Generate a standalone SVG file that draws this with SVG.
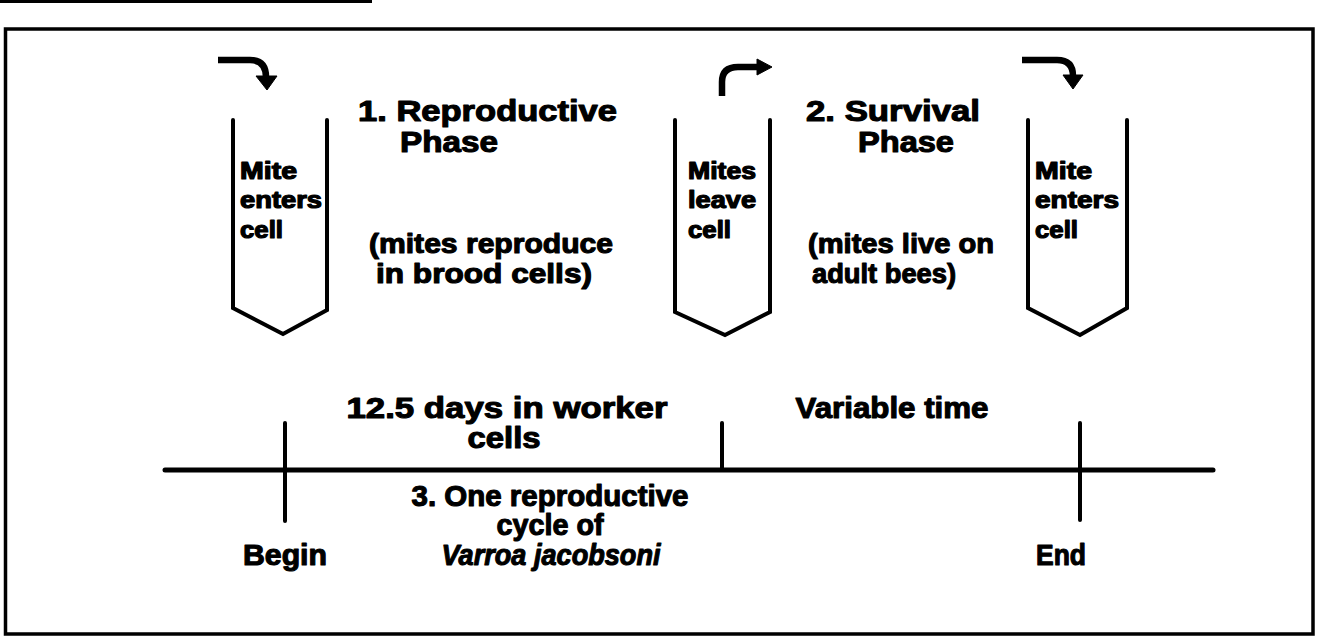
<svg xmlns="http://www.w3.org/2000/svg" width="1318" height="639" viewBox="0 0 1318 639">
  <style>
    .t { font-family: "Liberation Sans", Arial, sans-serif; font-weight: bold; fill: #000; stroke: #000; stroke-width: 1.1; stroke-linejoin: round; }
    .big { font-size: 29px; }
    .mid { font-size: 27px; }
    .cell { font-size: 23px; stroke-width: 1.2; }
    .it { font-style: italic; }
    .line { fill: none; stroke: #000; stroke-linecap: round; stroke-linejoin: round; }
    .cellshape { fill: none; stroke: #000; stroke-width: 4; stroke-linejoin: miter; stroke-linecap: round; }
    .arrow { fill: none; stroke: #000; stroke-width: 6.5; stroke-linecap: butt; }
    .head { fill: #000; stroke: #000; stroke-width: 1; stroke-linejoin: round; }
  </style>
  <rect width="1318" height="639" fill="#fff"/>

  <!-- frame -->
  <g id="frame">
    <line x1="0" y1="1.5" x2="372" y2="1.5" stroke="#000" stroke-width="3"/>
    <path d="M5.5,634 V29 H1313 V634 H5.5 Z" fill="none" stroke="#000" stroke-width="3.5"/>
  </g>

  <!-- cells -->
  <g id="cell-enter-1">
    <polyline class="cellshape" points="233,120 233,308 283,334 327,310 327,120"/>
    <text class="t cell" x="240" y="179" textLength="57" lengthAdjust="spacingAndGlyphs">Mite</text>
    <text class="t cell" x="240" y="208" textLength="82" lengthAdjust="spacingAndGlyphs">enters</text>
    <text class="t cell" x="240" y="238" textLength="43" lengthAdjust="spacingAndGlyphs">cell</text>
  </g>
  <g id="cell-leave">
    <polyline class="cellshape" points="675,120 675,312 725,335 770,312 770,120"/>
    <text class="t cell" x="688" y="179" textLength="68" lengthAdjust="spacingAndGlyphs">Mites</text>
    <text class="t cell" x="688" y="208" textLength="68" lengthAdjust="spacingAndGlyphs">leave</text>
    <text class="t cell" x="688" y="238" textLength="43" lengthAdjust="spacingAndGlyphs">cell</text>
  </g>
  <g id="cell-enter-2">
    <polyline class="cellshape" points="1028,120 1028,308 1080,335 1127,308 1127,120"/>
    <text class="t cell" x="1035" y="179" textLength="57" lengthAdjust="spacingAndGlyphs">Mite</text>
    <text class="t cell" x="1035" y="208" textLength="84" lengthAdjust="spacingAndGlyphs">enters</text>
    <text class="t cell" x="1035" y="238" textLength="43" lengthAdjust="spacingAndGlyphs">cell</text>
  </g>

  <!-- arrows (connectors) -->
  <g id="connectors">
    <path class="arrow" d="M218,60 H250 Q266,60 266,77"/>
    <polygon class="head" points="256,76 277,76 267,90"/>
    <path class="arrow" d="M722,96 V82 Q722,67 738,67 H758"/>
    <polygon class="head" points="757,59 772,67 757,75"/>
    <path class="arrow" d="M1022,60 H1057 Q1073,60 1073,76"/>
    <polygon class="head" points="1063,75 1083,75 1073,89"/>
  </g>

  <!-- phase labels -->
  <g id="phase-1">
    <text class="t big" x="358" y="121" textLength="259" lengthAdjust="spacingAndGlyphs">1. Reproductive</text>
    <text class="t big" x="400" y="152" textLength="98" lengthAdjust="spacingAndGlyphs">Phase</text>
    <text class="t mid" x="369" y="253" textLength="244" lengthAdjust="spacingAndGlyphs">(mites reproduce</text>
    <text class="t mid" x="376" y="283" textLength="216" lengthAdjust="spacingAndGlyphs">in brood cells)</text>
  </g>
  <g id="phase-2">
    <text class="t big" x="806" y="121" textLength="174" lengthAdjust="spacingAndGlyphs">2. Survival</text>
    <text class="t big" x="858" y="152" textLength="96" lengthAdjust="spacingAndGlyphs">Phase</text>
    <text class="t mid" x="808" y="253" textLength="186" lengthAdjust="spacingAndGlyphs">(mites live on</text>
    <text class="t mid" x="812" y="283" textLength="144" lengthAdjust="spacingAndGlyphs">adult bees)</text>
  </g>

  <!-- timeline -->
  <g id="timeline">
    <line class="line" x1="165" y1="470" x2="1213" y2="470" stroke-width="5"/>
    <line class="line" x1="285" y1="423" x2="285" y2="521" stroke-width="4"/>
    <line class="line" x1="722" y1="423" x2="722" y2="470" stroke-width="4"/>
    <line class="line" x1="1080" y1="423" x2="1080" y2="520" stroke-width="4"/>
  </g>
  <g id="durations">
    <text class="t big" x="507" y="418" text-anchor="middle" textLength="321" lengthAdjust="spacingAndGlyphs">12.5 days in worker</text>
    <text class="t big" x="504" y="448" text-anchor="middle" textLength="73" lengthAdjust="spacingAndGlyphs">cells</text>
    <text class="t big" x="892" y="418" text-anchor="middle" textLength="193" lengthAdjust="spacingAndGlyphs">Variable time</text>
  </g>
  <g id="cycle">
    <text class="t big" x="550" y="506" text-anchor="middle" textLength="277" lengthAdjust="spacingAndGlyphs">3. One reproductive</text>
    <text class="t big" x="550" y="535" text-anchor="middle" textLength="107" lengthAdjust="spacingAndGlyphs">cycle of</text>
    <text class="t big it" x="551" y="565" text-anchor="middle" textLength="219" lengthAdjust="spacingAndGlyphs">Varroa jacobsoni</text>
  </g>
  <g id="begin">
    <text class="t big" x="285" y="565" text-anchor="middle" textLength="84" lengthAdjust="spacingAndGlyphs">Begin</text>
  </g>
  <g id="end">
    <text class="t big" x="1061" y="565" text-anchor="middle" textLength="50" lengthAdjust="spacingAndGlyphs">End</text>
  </g>
</svg>
